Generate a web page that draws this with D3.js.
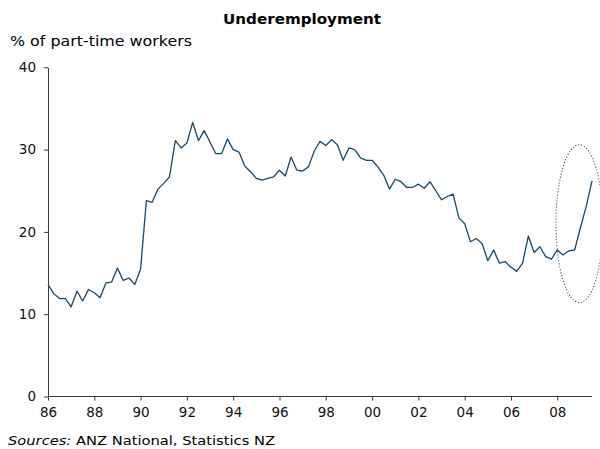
<!DOCTYPE html>
<html>
<head>
<meta charset="utf-8">
<script src="https://cdn.jsdelivr.net/npm/d3@7"></script>
<style>
  html, body { margin: 0; padding: 0; background: #fff; }
  svg { display: block; font-family: "DejaVu Sans", Verdana, sans-serif; }
</style>
</head>
<body>
<svg id="chart" width="600" height="449"></svg>
<script>
// Underemployment, quarterly, 1986Q1 - 2009Q3 (% of part-time workers)
const startYear = 1986;
const startQuarter = 1;
const underemployment = [
  13.6, 12.5, 11.9, 11.9,   // 1986
  10.9, 12.8, 11.6, 13.0,   // 1987
  12.6, 12.0, 13.8, 13.9,   // 1988
  15.6, 14.1, 14.4, 13.6,   // 1989
  15.5, 23.8, 23.6, 25.2,   // 1990
  25.9, 26.7, 31.1, 30.2,   // 1991
  30.8, 33.3, 31.1, 32.3,   // 1992
  30.9, 29.5, 29.5, 31.3,   // 1993
  30.0, 29.7, 28.0, 27.3,   // 1994
  26.5, 26.3, 26.5, 26.7,   // 1995
  27.5, 26.8, 29.1, 27.5,   // 1996
  27.4, 27.9, 29.8, 31.0,   // 1997
  30.5, 31.2, 30.6, 28.7,   // 1998
  30.2, 30.0, 29.0, 28.7,   // 1999
  28.7, 27.9, 26.9, 25.2,   // 2000
  26.4, 26.1, 25.4, 25.4,   // 2001
  25.8, 25.3, 26.1, 25.0,   // 2002
  23.9, 24.3, 24.6, 21.7,   // 2003
  21.0, 18.8, 19.2, 18.6,   // 2004
  16.5, 17.8, 16.2, 16.4,   // 2005
  15.7, 15.2, 16.2, 19.5,   // 2006
  17.5, 18.2, 17.0, 16.7,   // 2007
  17.8, 17.2, 17.7, 17.8,   // 2008
  20.5, 23.1, 26.2          // 2009
];
const yTicks = [0, 10, 20, 30, 40];
const xTickYears = [1986, 1988, 1990, 1992, 1994, 1996, 1998, 2000, 2002, 2004, 2006, 2008];
// the recent upturn that the dotted ring highlights
const highlightQuarter = "2009Q1";
const highlightLevel = 21;

const quarters = underemployment.map((v, i) => {
  const q = startQuarter - 1 + i;
  return (startYear + Math.floor(q / 4)) + "Q" + (q % 4 + 1);
});
const data = quarters.map((q, i) => ({ q, v: underemployment[i] }));

const svg = d3.select("#chart");
const plotLeft = 48, plotRight = 592, plotTop = 67.3, plotBottom = 396.5;

const x = d3.scalePoint().domain(quarters).range([plotLeft, plotRight]);
const y = d3.scaleLinear().domain([0, 40]).range([plotBottom, plotTop]);

// title and axis caption
svg.append("text")
  .attr("x", 302).attr("y", 24)
  .attr("text-anchor", "middle")
  .attr("font-size", 14).attr("font-weight", "bold")
  .attr("textLength", 158).attr("lengthAdjust", "spacingAndGlyphs")
  .text("Underemployment");

svg.append("text")
  .attr("x", 10).attr("y", 46)
  .attr("font-size", 13.5)
  .attr("textLength", 182).attr("lengthAdjust", "spacingAndGlyphs")
  .text("% of part-time workers");

// y axis
const yAxis = svg.append("g")
  .attr("transform", `translate(${plotLeft},0)`)
  .call(d3.axisLeft(y).tickValues(yTicks).tickSize(4).tickPadding(8).tickSizeOuter(0));

// x axis
const xAxis = svg.append("g")
  .attr("transform", `translate(0,${plotBottom})`)
  .call(d3.axisBottom(x)
    .tickValues(xTickYears.map(yr => yr + "Q1"))
    .tickFormat(q => q.slice(2, 4))
    .tickSize(4).tickPadding(7).tickSizeOuter(0));

[yAxis, xAxis].forEach(g => {
  g.select(".domain").attr("stroke", "#3a3a3a");
  g.selectAll(".tick line").attr("stroke", "#3a3a3a");
  g.selectAll(".tick text").attr("font-size", 13.5)
    .attr("font-family", "'DejaVu Sans', Verdana, sans-serif").attr("fill", "#111");
});
xAxis.select(".domain").attr("d", `M${plotLeft},0H${plotRight}`);

// series line
svg.append("path")
  .datum(data)
  .attr("fill", "none")
  .attr("stroke", "#17496b")
  .attr("stroke-width", 1.3)
  .attr("stroke-linejoin", "round")
  .attr("d", d3.line().x(d => x(d.q)).y(d => y(d.v)));

// dotted ring around the latest rise
svg.append("ellipse")
  .attr("cx", x(highlightQuarter) - 1)
  .attr("cy", y(highlightLevel))
  .attr("rx", 23.5).attr("ry", 79)
  .attr("fill", "none")
  .attr("stroke", "#333")
  .attr("stroke-width", 1.1)
  .attr("stroke-dasharray", "1,2");

// source note
const src = svg.append("text")
  .attr("x", 8).attr("y", 445)
  .attr("font-size", 13)
  .attr("textLength", 267).attr("lengthAdjust", "spacingAndGlyphs");
src.append("tspan").attr("font-style", "italic").text("Sources:");
src.append("tspan").text(" ANZ National, Statistics NZ");
</script>
</body>
</html>
